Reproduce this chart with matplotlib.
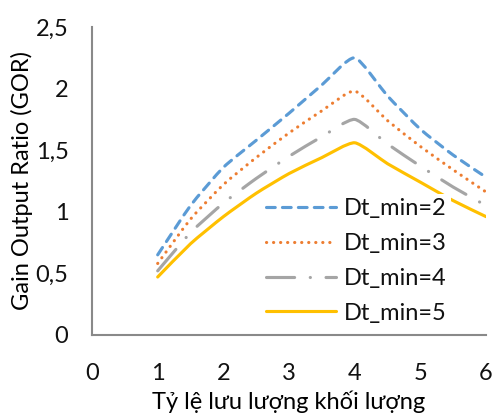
import matplotlib
matplotlib.use("Agg")
import matplotlib.pyplot as plt
from matplotlib.path import Path
from matplotlib.patches import PathPatch
from matplotlib.ticker import FuncFormatter

plt.rcParams['font.family'] = ['Lato', 'DejaVu Sans']
plt.rcParams['font.weight'] = 'normal'
plt.rcParams['text.color'] = '#111111'

# Mass flow ratio and GOR for each minimum temperature difference
ratio = [1, 1.5, 2, 2.5, 3, 3.5, 4, 4.5, 5, 5.5, 6]
gor_dt2 = [0.65, 1.05, 1.36, 1.58, 1.80, 2.03, 2.25, 1.94, 1.67, 1.46, 1.28]
gor_dt3 = [0.58, 0.94, 1.22, 1.44, 1.64, 1.82, 1.98, 1.74, 1.53, 1.34, 1.16]
gor_dt4 = [0.52, 0.83, 1.07, 1.27, 1.45, 1.61, 1.75, 1.55, 1.37, 1.20, 1.05]
gor_dt5 = [0.47, 0.74, 0.96, 1.15, 1.31, 1.44, 1.56, 1.39, 1.24, 1.09, 0.96]
labels = ["Dt_min=2", "Dt_min=3", "Dt_min=4", "Dt_min=5"]
colors = ["#5B9BD5", "#ED7D31", "#A5A5A5", "#FFC000"]
styles = [(0, (2.8, 2.3)), (0, (0.05, 2.2)), (0, (9, 5, 0.05, 5)), "solid"]

x_ticks = [0, 1, 2, 3, 4, 5, 6]
y_ticks = [0, 0.5, 1, 1.5, 2, 2.5]

fs = 17
lw = 2.25
tension = 10


# Lightly smoothed line through the points (cubic Bezier segments)
def smooth_path(xs, ys):
    pts = list(zip(xs, ys))
    n = len(pts)
    verts = [pts[0]]
    codes = [Path.MOVETO]
    for i in range(n - 1):
        p0 = pts[i - 1] if i > 0 else pts[i]
        p1 = pts[i]
        p2 = pts[i + 1]
        p3 = pts[i + 2] if i + 2 < n else pts[i + 1]
        c1 = (p1[0] + (p2[0] - p0[0]) / tension, p1[1] + (p2[1] - p0[1]) / tension)
        c2 = (p2[0] - (p3[0] - p1[0]) / tension, p2[1] - (p3[1] - p1[1]) / tension)
        verts += [c1, c2, p2]
        codes += [Path.CURVE4] * 3
    return Path(verts, codes)


fig = plt.figure(figsize=(4.96, 4.16), dpi=100)
ax = fig.add_axes([0.1855, 0.195, 0.7945, 0.740])

for ys, color, style, label in zip([gor_dt2, gor_dt3, gor_dt4, gor_dt5],
                                   colors, styles, labels):
    patch = PathPatch(smooth_path(ratio, ys), facecolor="none", edgecolor=color,
                      lw=lw, linestyle=style, capstyle="round", joinstyle="round")
    ax.add_patch(patch)
    ax.plot([], [], color=color, lw=lw, linestyle=style,
            dash_capstyle="round", solid_capstyle="round", label=label)

ax.set_xlim(0, 6)
ax.set_ylim(0, 2.5)
ax.set_xticks(x_ticks)
ax.set_yticks(y_ticks)
ax.yaxis.set_major_formatter(FuncFormatter(lambda v, p: f"{v:g}".replace(".", ",")))
ax.tick_params(length=0, labelsize=fs, labelcolor="#111111")
ax.tick_params(axis="x", pad=20)
ax.tick_params(axis="y", pad=17)

for side in ["top", "right"]:
    ax.spines[side].set_visible(False)
for side in ["left", "bottom"]:
    ax.spines[side].set_color("#898989")
    ax.spines[side].set_linewidth(1.5)

ax.set_xlabel("Tỷ lệ lưu lượng khối lượng", fontsize=fs, labelpad=5)
ax.set_ylabel("Gain Output Ratio (GOR)", fontsize=fs, labelpad=2)

leg = ax.legend(loc="center", bbox_to_anchor=(0.67, 0.24), fontsize=fs,
                handlelength=3.0, handletextpad=0.3, labelspacing=0.58,
                frameon=True, fancybox=False, borderpad=0.2)
leg.get_frame().set_facecolor("white")
leg.get_frame().set_edgecolor("none")
leg.get_frame().set_alpha(1)

fig.savefig("out.png", dpi=100, facecolor="white")
